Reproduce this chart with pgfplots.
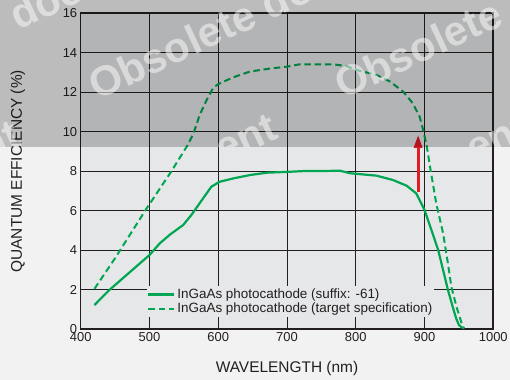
\documentclass[border=0pt]{standalone}
\usepackage{pgfplots}
\pgfplotsset{compat=1.18}
\usepackage{fontspec}
\setmainfont{Liberation Sans}
\usetikzlibrary{arrows.meta}
\definecolor{bgout}{HTML}{F2F2F2}
\definecolor{bgin}{HTML}{E6E7E9}
\definecolor{qgreen}{HTML}{00A651}
\definecolor{frame}{HTML}{231F20}
\definecolor{arrowred}{HTML}{E31D25}
\begin{document}
\begin{tikzpicture}
\useasboundingbox (-80.7bp,-50.7bp) rectangle (429.3bp,329.3bp);
\fill[bgout] (-80.7bp,-50.7bp) rectangle (429.3bp,329.3bp);
\fill[bgin] (0,0) rectangle (412.6bp,316bp);
\begin{axis}[
  scale only axis, width=412.6bp, height=316bp,
  xmin=400, xmax=1000, ymin=0, ymax=16,
  xtick={400,500,...,1000}, ytick={0,2,...,16},
  grid=major, major grid style={frame, line width=0.9bp},
  axis line style={frame, line width=1.6bp},
  major tick length=0pt,
  tick label style={font=\fontsize{13}{15}\selectfont, text=frame},
  /pgf/number format/assume math mode=true,
  /pgf/number format/1000 sep={},
  xlabel={WAVELENGTH (nm)}, ylabel={QUANTUM EFFICIENCY (\%)},
  label style={font=\fontsize{15.5}{17}\selectfont, text=frame},
  xlabel style={at={(axis description cs:0.5,-0.125)}, anchor=center},
  ylabel style={at={(axis description cs:-0.152,0.5)}, anchor=center},
  legend style={at={(axis cs:496.4,2.18)}, anchor=north west, draw=none, fill=bgin,
    font=\fontsize{13.5}{16.7}\selectfont, text=frame, inner xsep=0pt, inner ysep=0.5pt,
    row sep=-1bp, cells={anchor=west}},
  legend image code/.code={\draw[#1] (0bp,0bp) -- (26bp,0bp);},
]
\addplot[qgreen, line width=2.2bp, line join=round] coordinates {
 (420,1.23) (442,2.0) (470,2.85) (500,3.76) (515,4.35) (530,4.8) (549,5.28)
 (561,5.79) (578,6.63) (590,7.22) (602,7.47) (622,7.64) (646,7.81) (671,7.93)
 (700,7.97) (729,8.02) (760,8.02) (777,8.03) (792,7.9) (830,7.78) (854,7.56)
 (874,7.27) (888,6.88) (900,6.04) (910,5.03) (920,4.0) (927,3.0) (934,2.0)
 (941.6,1.06) (946,0.55) (950,0.22) (954,0.1) (958,0.05)};
\addlegendentry{InGaAs photocathode (suffix: -61)}
\addplot[qgreen, line width=2bp, dash pattern=on 6.5bp off 3.8bp, line join=round] coordinates {
 (420,2.05) (450,3.6) (496,6.13) (530,7.9) (556,9.35) (564,9.92) (573,10.85)
 (583,11.6) (593,12.25) (602,12.45) (622,12.76) (646,13.05) (675,13.2) (700,13.3)
 (719,13.42) (767,13.42) (787,13.32) (801,13.13) (830,12.88) (850,12.54)
 (869,12.03) (883,11.44) (893,10.76) (898,10.09) (903,9.33) (908,8.23)
 (917,6.38) (927,4.86) (934,3.34) (939,2.16) (946.5,1.14) (954,0.3) (957,0.05)};
\addlegendentry{InGaAs photocathode (target specification)}
\addplot[arrowred, line width=3bp, -{Triangle[width=8bp,length=13bp]}, forget plot]
 coordinates {(890.7,6.95) (890.7,9.85)};
\end{axis}
\fill[black, opacity=0.22] (-80.7bp,182.6bp) rectangle (429.3bp,329.3bp);
\begin{scope}
\clip (-80.7bp,182.6bp) rectangle (429.3bp,329.3bp);
\tikzset{wm/.style={white, opacity=0.5, rotate=25, anchor=base west, inner sep=0pt,
        font=\bfseries\fontsize{42}{42}\selectfont}}
\node[wm] at (16.3bp,228.3bp) {Obsolete do};
\node[wm] at (262.3bp,229.3bp) {Obsolete};
\node[wm] at (-62.7bp,298.3bp) {doc};
\node[wm] at (142.3bp,165.3bp) {ent};
\node[wm] at (393.3bp,165.3bp) {ent};
\node[wm] at (-114.7bp,158.3bp) {ent};
\end{scope}
\end{tikzpicture}
\end{document}
